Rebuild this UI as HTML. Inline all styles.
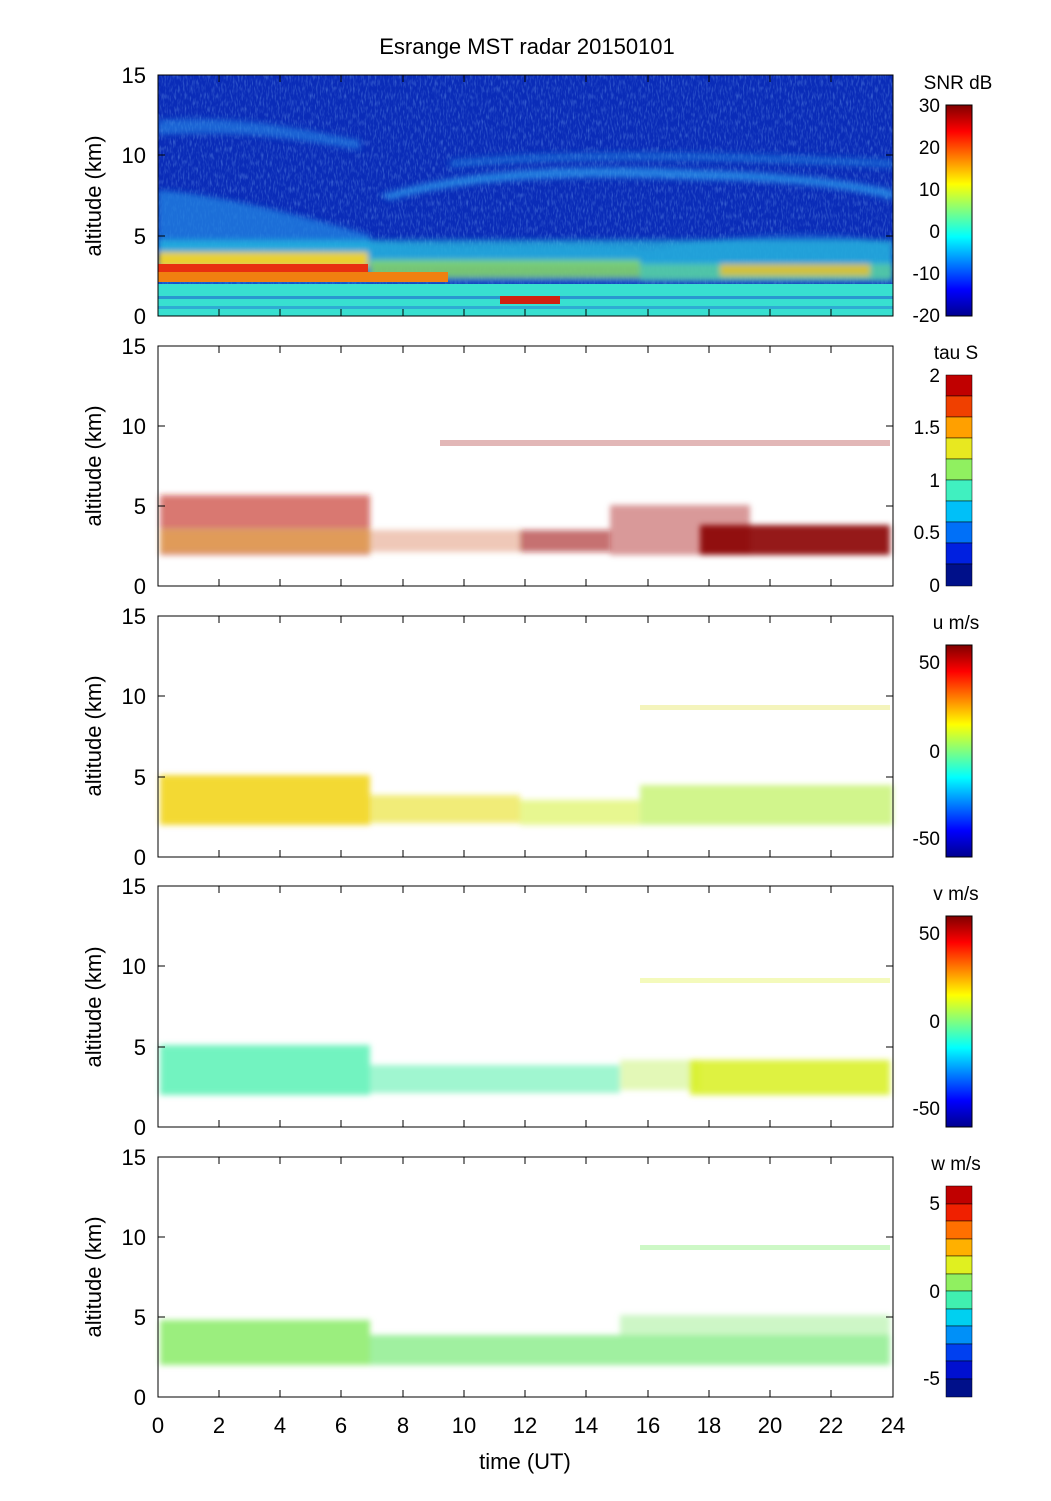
<!DOCTYPE html>
<html><head><meta charset="utf-8"><style>body{margin:0;background:#fff}svg{display:block}</style></head><body>
<svg width="1051" height="1501" xmlns="http://www.w3.org/2000/svg" font-family="Liberation Sans, sans-serif">
<defs>
<linearGradient id="jet" x1="0" y1="1" x2="0" y2="0">
<stop offset="0" stop-color="#00008f"/><stop offset="0.125" stop-color="#0000ff"/><stop offset="0.375" stop-color="#00ffff"/><stop offset="0.625" stop-color="#ffff00"/><stop offset="0.875" stop-color="#ff0000"/><stop offset="1" stop-color="#800000"/>
</linearGradient>
<filter id="bl" x="-5%" y="-20%" width="110%" height="140%"><feGaussianBlur stdDeviation="3"/></filter>
<filter id="noise"><feTurbulence type="fractalNoise" baseFrequency="0.6 0.15" numOctaves="2" seed="3"/><feColorMatrix type="matrix" values="0 0 0 0 0.3  0 0 0 0 0.6  0 0 0 0 1  0 0 0 -2.2 1.2"/><feComposite in2="SourceGraphic" operator="in"/></filter>
<clipPath id="c1"><rect x="158" y="75" width="735" height="241"/></clipPath>
</defs>
<text x="527" y="54" font-size="22" text-anchor="middle">Esrange MST radar 20150101</text>

<g clip-path="url(#c1)">
<rect x="158" y="75" width="735" height="241" fill="#0a2cb8"/>
<rect x="158" y="75" width="735" height="241" fill="#fff" filter="url(#noise)" opacity="0.35"/>
<g filter="url(#bl)">
<path d="M158,120 C250,115 300,130 360,140 L360,150 C300,140 250,130 158,135Z" fill="#2a8ae8" opacity="0.6"/>
<path d="M380,195 C480,165 600,165 700,170 C780,172 850,180 893,190 L893,200 C840,185 760,180 700,180 C600,175 480,175 390,200Z" fill="#2ea0f0" opacity="0.7"/>
<path d="M450,160 C550,150 700,150 893,160 L893,168 C700,158 550,158 450,168Z" fill="#2090e8" opacity="0.5"/>
<path d="M158,190 C220,195 300,215 370,235 L370,284 L158,284Z" fill="#1e80e0" opacity="0.8"/>
<path d="M370,240 C450,255 550,240 650,250 C750,230 850,230 893,245 L893,284 L370,284Z" fill="#1860d0" opacity="0.8"/>
<rect x="158" y="240" width="735" height="25" fill="#28c0e0" opacity="0.7"/>
<rect x="158" y="252" width="210" height="16" fill="#e8d030"/>
<rect x="370" y="260" width="270" height="18" fill="#90e060" opacity="0.8"/>
<rect x="640" y="264" width="253" height="16" fill="#60e0a0" opacity="0.8"/>
<rect x="720" y="264" width="150" height="12" fill="#f0c020" opacity="0.8"/>
</g>
<rect x="158" y="264" width="210" height="8" fill="#e83010"/>
<rect x="158" y="272" width="290" height="10" fill="#f08010"/>
<rect x="158" y="284" width="735" height="32" fill="#38e0d0"/>
<rect x="158" y="296" width="735" height="3" fill="#1a50d0" opacity="0.5"/>
<rect x="158" y="306" width="735" height="3" fill="#2060d8" opacity="0.4"/>
<rect x="500" y="296" width="60" height="8" fill="#d02010"/>
</g>

<g filter="url(#bl)">
<rect x="160" y="495" width="210" height="60" fill="#c02010" opacity="0.6"/>
<rect x="160" y="530" width="210" height="22" fill="#e8c040" opacity="0.5"/>
<rect x="370" y="530" width="150" height="22" fill="#d06030" opacity="0.35"/>
<rect x="520" y="530" width="90" height="22" fill="#a01010" opacity="0.6"/>
<rect x="610" y="505" width="140" height="50" fill="#a01010" opacity="0.4"/>
<rect x="700" y="525" width="190" height="30" fill="#8a0000" opacity="0.9"/>
</g>
<rect x="440" y="440" width="450" height="6" fill="#a01010" opacity="0.3"/>

<g filter="url(#bl)">
<rect x="160" y="775" width="210" height="50" fill="#f0d000" opacity="0.8"/>
<rect x="370" y="795" width="150" height="28" fill="#e8e020" opacity="0.6"/>
<rect x="520" y="800" width="120" height="25" fill="#d0f020" opacity="0.5"/>
<rect x="640" y="785" width="253" height="40" fill="#b8f050" opacity="0.65"/>
</g>
<rect x="640" y="705" width="250" height="5" fill="#e0e040" opacity="0.35"/>

<g filter="url(#bl)">
<rect x="160" y="1045" width="210" height="50" fill="#50f0b0" opacity="0.8"/>
<rect x="370" y="1065" width="250" height="28" fill="#60f0b0" opacity="0.6"/>
<rect x="620" y="1060" width="80" height="30" fill="#c0f060" opacity="0.45"/>
<rect x="690" y="1060" width="200" height="35" fill="#d8f020" opacity="0.85"/>
</g>
<rect x="640" y="978" width="250" height="5" fill="#e0f040" opacity="0.35"/>

<g filter="url(#bl)">
<rect x="160" y="1320" width="210" height="45" fill="#90ec70" opacity="0.9"/>
<rect x="370" y="1335" width="520" height="30" fill="#88ec88" opacity="0.8"/>
<rect x="620" y="1315" width="270" height="20" fill="#90ec80" opacity="0.45"/>
</g>
<rect x="640" y="1245" width="250" height="5" fill="#90f080" opacity="0.45"/>

<g stroke="#000" fill="none" stroke-width="1">
<rect x="158" y="75" width="735" height="241"/>
<rect x="158" y="346" width="735" height="240"/>
<rect x="158" y="616" width="735" height="241"/>
<rect x="158" y="886" width="735" height="241"/>
<rect x="158" y="1157" width="735" height="240"/>
</g>
<g stroke="#000" stroke-width="1">
<path d="M158,75h7M158,155h7M158,236h7M886,75h7M886,155h7M886,236h7M158,346h7M158,426h7M158,506h7M886,346h7M886,426h7M886,506h7M158,616h7M158,696h7M158,777h7M886,616h7M886,696h7M886,777h7M158,886h7M158,966h7M158,1047h7M886,886h7M886,966h7M886,1047h7M158,1157h7M158,1237h7M158,1317h7M886,1157h7M886,1237h7M886,1317h7"/>
<path d="M219,316v-7M280,316v-7M341,316v-7M403,316v-7M464,316v-7M525,316v-7M586,316v-7M648,316v-7M709,316v-7M770,316v-7M831,316v-7M219,75v7M280,75v7M341,75v7M403,75v7M464,75v7M525,75v7M586,75v7M648,75v7M709,75v7M770,75v7M831,75v7
M219,586v-7M280,586v-7M341,586v-7M403,586v-7M464,586v-7M525,586v-7M586,586v-7M648,586v-7M709,586v-7M770,586v-7M831,586v-7M219,346v7M280,346v7M341,346v7M403,346v7M464,346v7M525,346v7M586,346v7M648,346v7M709,346v7M770,346v7M831,346v7
M219,857v-7M280,857v-7M341,857v-7M403,857v-7M464,857v-7M525,857v-7M586,857v-7M648,857v-7M709,857v-7M770,857v-7M831,857v-7M219,616v7M280,616v7M341,616v7M403,616v7M464,616v7M525,616v7M586,616v7M648,616v7M709,616v7M770,616v7M831,616v7
M219,1127v-7M280,1127v-7M341,1127v-7M403,1127v-7M464,1127v-7M525,1127v-7M586,1127v-7M648,1127v-7M709,1127v-7M770,1127v-7M831,1127v-7M219,886v7M280,886v7M341,886v7M403,886v7M464,886v7M525,886v7M586,886v7M648,886v7M709,886v7M770,886v7M831,886v7
M219,1397v-7M280,1397v-7M341,1397v-7M403,1397v-7M464,1397v-7M525,1397v-7M586,1397v-7M648,1397v-7M709,1397v-7M770,1397v-7M831,1397v-7M219,1157v7M280,1157v7M341,1157v7M403,1157v7M464,1157v7M525,1157v7M586,1157v7M648,1157v7M709,1157v7M770,1157v7M831,1157v7"/>
</g>
<g font-size="22" text-anchor="end">
<text x="146" y="83">15</text><text x="146" y="163">10</text><text x="146" y="244">5</text><text x="146" y="324">0</text>
<text x="146" y="354">15</text><text x="146" y="434">10</text><text x="146" y="514">5</text><text x="146" y="594">0</text>
<text x="146" y="624">15</text><text x="146" y="704">10</text><text x="146" y="785">5</text><text x="146" y="865">0</text>
<text x="146" y="894">15</text><text x="146" y="974">10</text><text x="146" y="1055">5</text><text x="146" y="1135">0</text>
<text x="146" y="1165">15</text><text x="146" y="1245">10</text><text x="146" y="1325">5</text><text x="146" y="1405">0</text>
</g>
<g font-size="22" text-anchor="middle">
<text transform="translate(101,196) rotate(-90)">altitude (km)</text>
<text transform="translate(101,466) rotate(-90)">altitude (km)</text>
<text transform="translate(101,736) rotate(-90)">altitude (km)</text>
<text transform="translate(101,1007) rotate(-90)">altitude (km)</text>
<text transform="translate(101,1277) rotate(-90)">altitude (km)</text>
<text x="158" y="1433">0</text><text x="219" y="1433">2</text><text x="280" y="1433">4</text><text x="341" y="1433">6</text><text x="403" y="1433">8</text><text x="464" y="1433">10</text><text x="525" y="1433">12</text><text x="586" y="1433">14</text><text x="648" y="1433">16</text><text x="709" y="1433">18</text><text x="770" y="1433">20</text><text x="831" y="1433">22</text><text x="893" y="1433">24</text>
<text x="525" y="1469">time (UT)</text>
</g>

<rect x="946" y="105" width="26" height="211" fill="url(#jet)" stroke="#000"/>
<g stroke="#000" stroke-width="0.5">
<rect x="946" y="375" width="26" height="21" fill="#c00000"/><rect x="946" y="396" width="26" height="21" fill="#f04000"/><rect x="946" y="417" width="26" height="21" fill="#ffa000"/><rect x="946" y="438" width="26" height="21" fill="#e8e820"/><rect x="946" y="459" width="26" height="21" fill="#90f060"/><rect x="946" y="480" width="26" height="21" fill="#40f0c0"/><rect x="946" y="501" width="26" height="21" fill="#00c0f8"/><rect x="946" y="522" width="26" height="21" fill="#0070f8"/><rect x="946" y="543" width="26" height="21" fill="#0020e0"/><rect x="946" y="564" width="26" height="22" fill="#00108a"/>
</g>
<rect x="946" y="645" width="26" height="212" fill="url(#jet)" stroke="#000"/>
<rect x="946" y="916" width="26" height="211" fill="url(#jet)" stroke="#000"/>
<g stroke="#000" stroke-width="0.5">
<rect x="946" y="1186" width="26" height="18" fill="#c00000"/><rect x="946" y="1204" width="26" height="17" fill="#f02000"/><rect x="946" y="1221" width="26" height="18" fill="#ff7000"/><rect x="946" y="1239" width="26" height="17" fill="#ffb000"/><rect x="946" y="1256" width="26" height="18" fill="#e0f020"/><rect x="946" y="1274" width="26" height="17" fill="#90f060"/><rect x="946" y="1291" width="26" height="18" fill="#40f0b0"/><rect x="946" y="1309" width="26" height="17" fill="#00d0f0"/><rect x="946" y="1326" width="26" height="18" fill="#0090f8"/><rect x="946" y="1344" width="26" height="17" fill="#0040f0"/><rect x="946" y="1361" width="26" height="18" fill="#0010d0"/><rect x="946" y="1379" width="26" height="18" fill="#00108a"/>
</g>
<g font-size="19" text-anchor="end">
<text x="940" y="112">30</text><text x="940" y="154">20</text><text x="940" y="196">10</text><text x="940" y="238">0</text><text x="940" y="280">-10</text><text x="940" y="322">-20</text>
<text x="940" y="382">2</text><text x="940" y="434">1.5</text><text x="940" y="487">1</text><text x="940" y="539">0.5</text><text x="940" y="592">0</text>
<text x="940" y="669">50</text><text x="940" y="758">0</text><text x="940" y="845">-50</text>
<text x="940" y="940">50</text><text x="940" y="1028">0</text><text x="940" y="1115">-50</text>
<text x="940" y="1210">5</text><text x="940" y="1298">0</text><text x="940" y="1385">-5</text>
</g>
<g font-size="19" text-anchor="middle">
<text x="958" y="89">SNR dB</text><text x="956" y="359">tau S</text><text x="956" y="629">u m/s</text><text x="956" y="900">v m/s</text><text x="956" y="1170">w m/s</text>
</g>
</svg>
</body></html>
